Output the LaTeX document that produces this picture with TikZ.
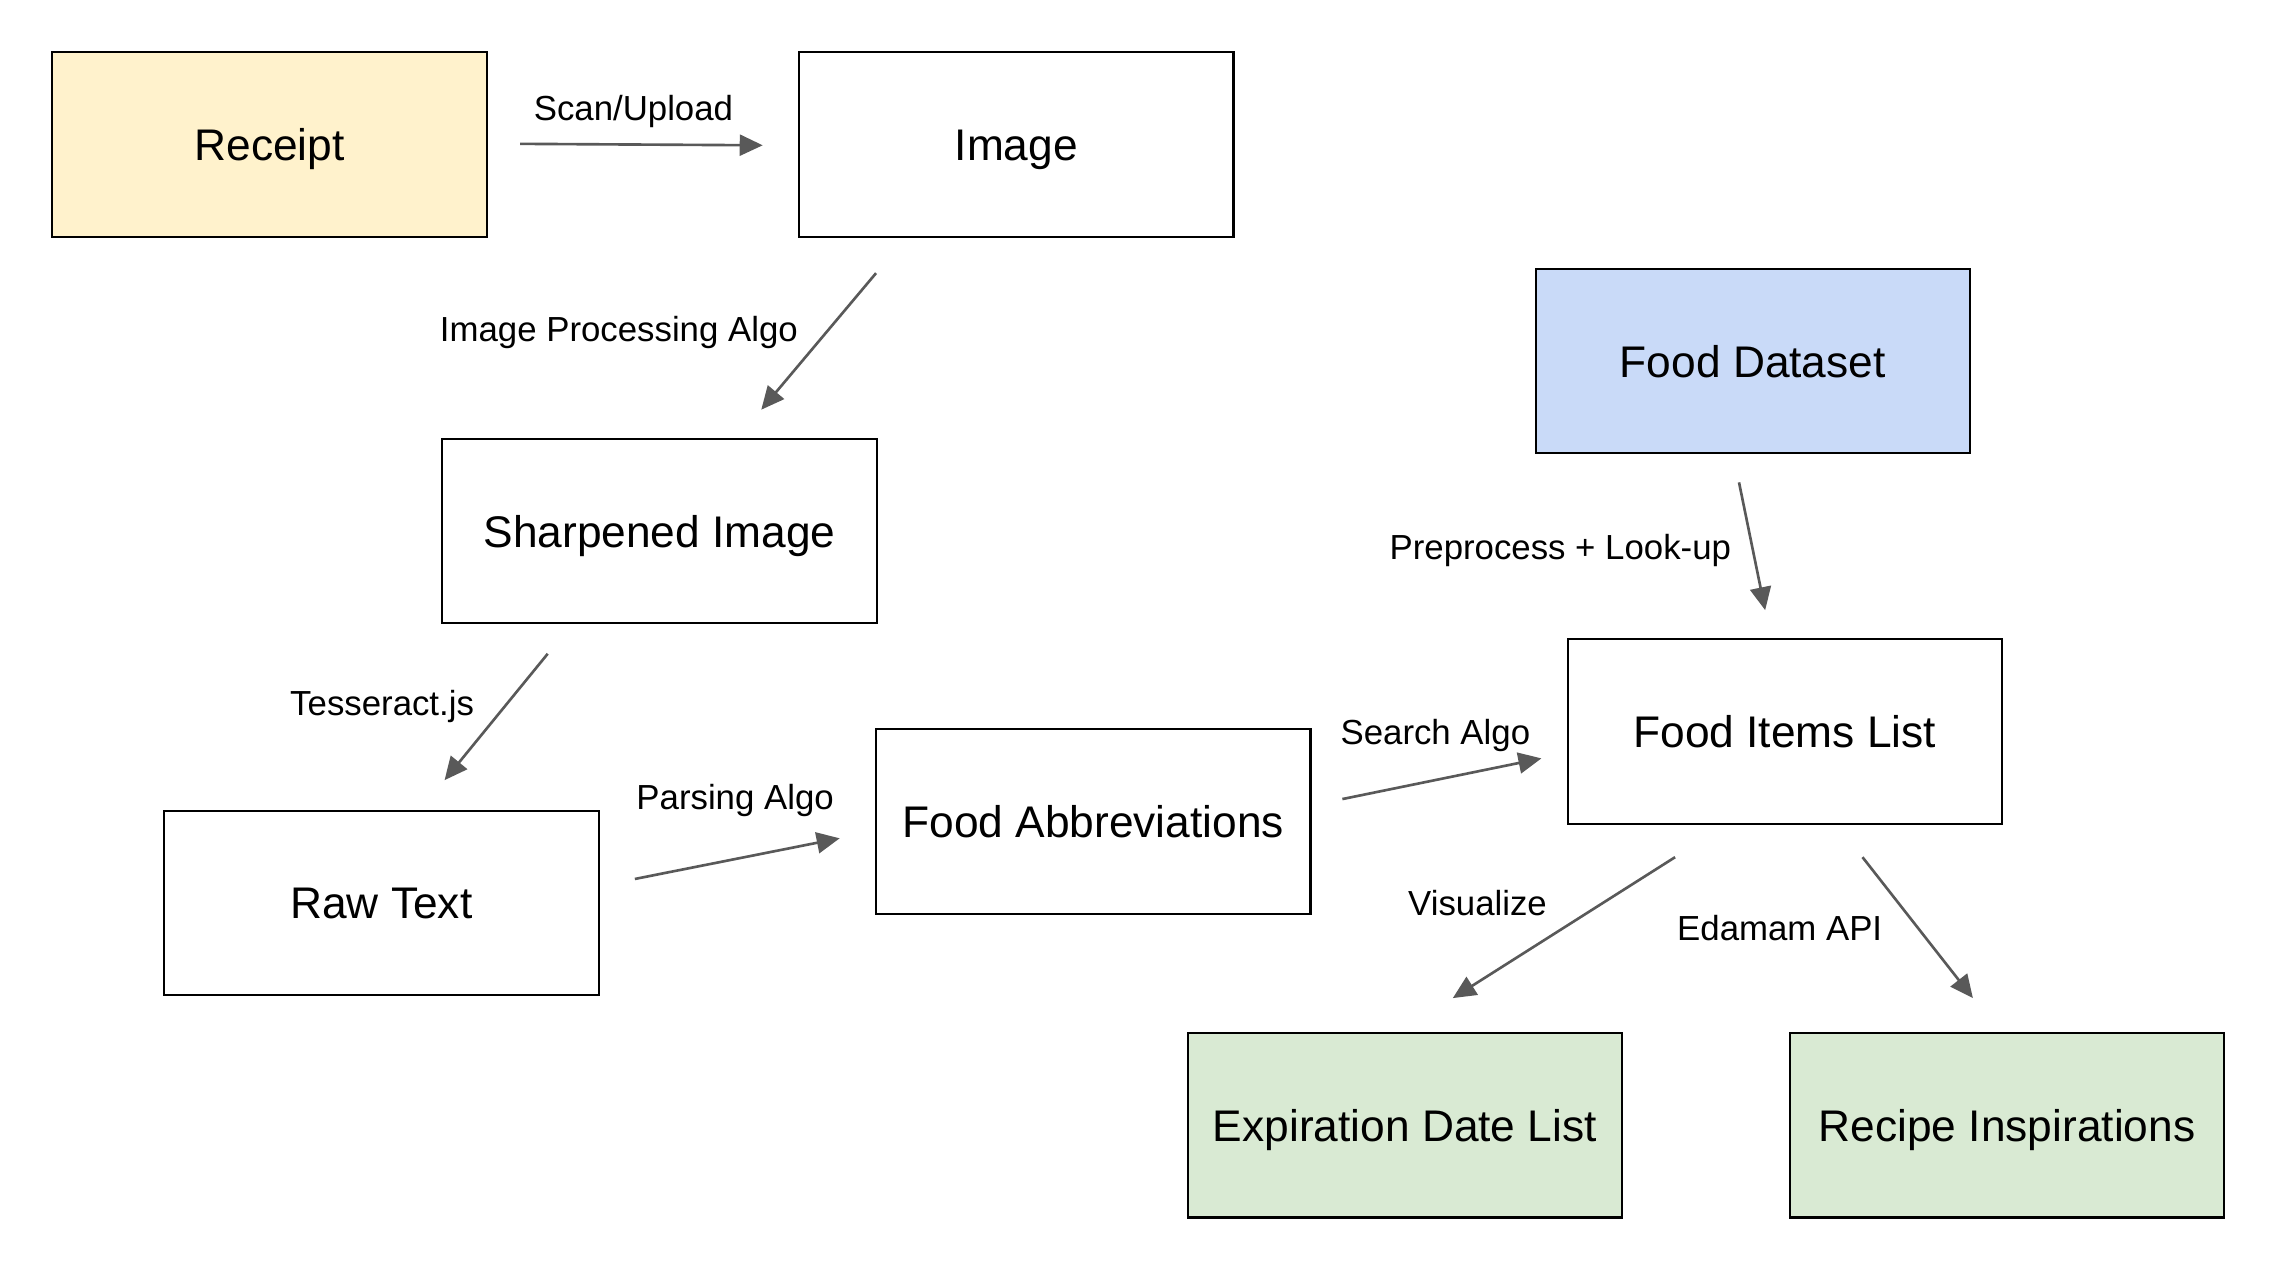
\documentclass[tikz,border=0pt]{standalone}
\usepackage{fontspec}
\setmainfont{Liberation Sans}
\usetikzlibrary{arrows.meta}
\definecolor{recfill}{HTML}{FFF2CC}
\definecolor{dsfill}{HTML}{C9DAF8}
\definecolor{outfill}{HTML}{D9EAD3}
\definecolor{arrgray}{HTML}{595959}
\tikzset{
  box/.style={draw=black, line width=0.6pt, inner sep=0pt, minimum width=4.344cm, minimum height=1.845cm, text height=0.45cm, text depth=0.13cm, font=\fontsize{12.6}{15}\selectfont},
  lbl/.style={inner sep=0pt, text height=0.36cm, text depth=0.12cm, font=\fontsize{9.9}{12}\selectfont},
  conn/.style={draw=arrgray, line width=0.75pt, -{Triangle[length=2.3mm,width=2.1mm]}}
}
\begin{document}
\begin{tikzpicture}[x=0.014528cm, y=-0.014528cm]
\useasboundingbox (0,0) rectangle (1568,873);
\node[box, fill=recfill] (receipt) at (185.5,99.5) {Receipt};
\node[box] (image) at (699.5,99.5) {Image};
\node[box] (sharp) at (454,365.5) {Sharpened Image};
\node[box] (raw) at (262.5,621.5) {Raw Text};
\node[box] (abbr) at (752.5,565.5) {Food Abbreviations};
\node[box, fill=dsfill] (dataset) at (1206.5,248.5) {Food Dataset};
\node[box] (items) at (1228.5,503.5) {Food Items List};
\node[box, fill=outfill] (expir) at (967,774.5) {Expiration Date List};
\node[box, fill=outfill] (recipe) at (1381.5,774.5) {Recipe Inspirations};

\coordinate (a1s) at (358,99); \coordinate (a1e) at (525,100);
\coordinate (a2s) at (603,188); \coordinate (a2e) at (524,282);
\coordinate (a3s) at (377,450); \coordinate (a3e) at (306,537);
\coordinate (a4s) at (437,605); \coordinate (a4e) at (578,577);
\coordinate (a5s) at (924,550); \coordinate (a5e) at (1061,522);
\coordinate (a6s) at (1197,332); \coordinate (a6e) at (1215,420);
\coordinate (a7s) at (1153,590); \coordinate (a7e) at (1000,687);
\coordinate (a8s) at (1282,590); \coordinate (a8e) at (1358,687);

\draw[conn] (a1s) -- (a1e);
\draw[conn] (a2s) -- (a2e);
\draw[conn] (a3s) -- (a3e);
\draw[conn] (a4s) -- (a4e);
\draw[conn] (a5s) -- (a5e);
\draw[conn] (a6s) -- (a6e);
\draw[conn] (a7s) -- (a7e);
\draw[conn] (a8s) -- (a8e);

\node[lbl] (l1) at (436,75) {Scan/Upload};
\node[lbl] (l2) at (426,227) {Image Processing Algo};
\node[lbl] (l3) at (263,484) {Tesseract.js};
\node[lbl] (l4) at (506,549) {Parsing Algo};
\node[lbl] (l5) at (988,504) {Search Algo};
\node[lbl] (l6) at (1074,377) {Preprocess + Look-up};
\node[lbl] (l7) at (1017,622) {Visualize};
\node[lbl] (l8) at (1225,639) {Edamam API};
\end{tikzpicture}
\end{document}
